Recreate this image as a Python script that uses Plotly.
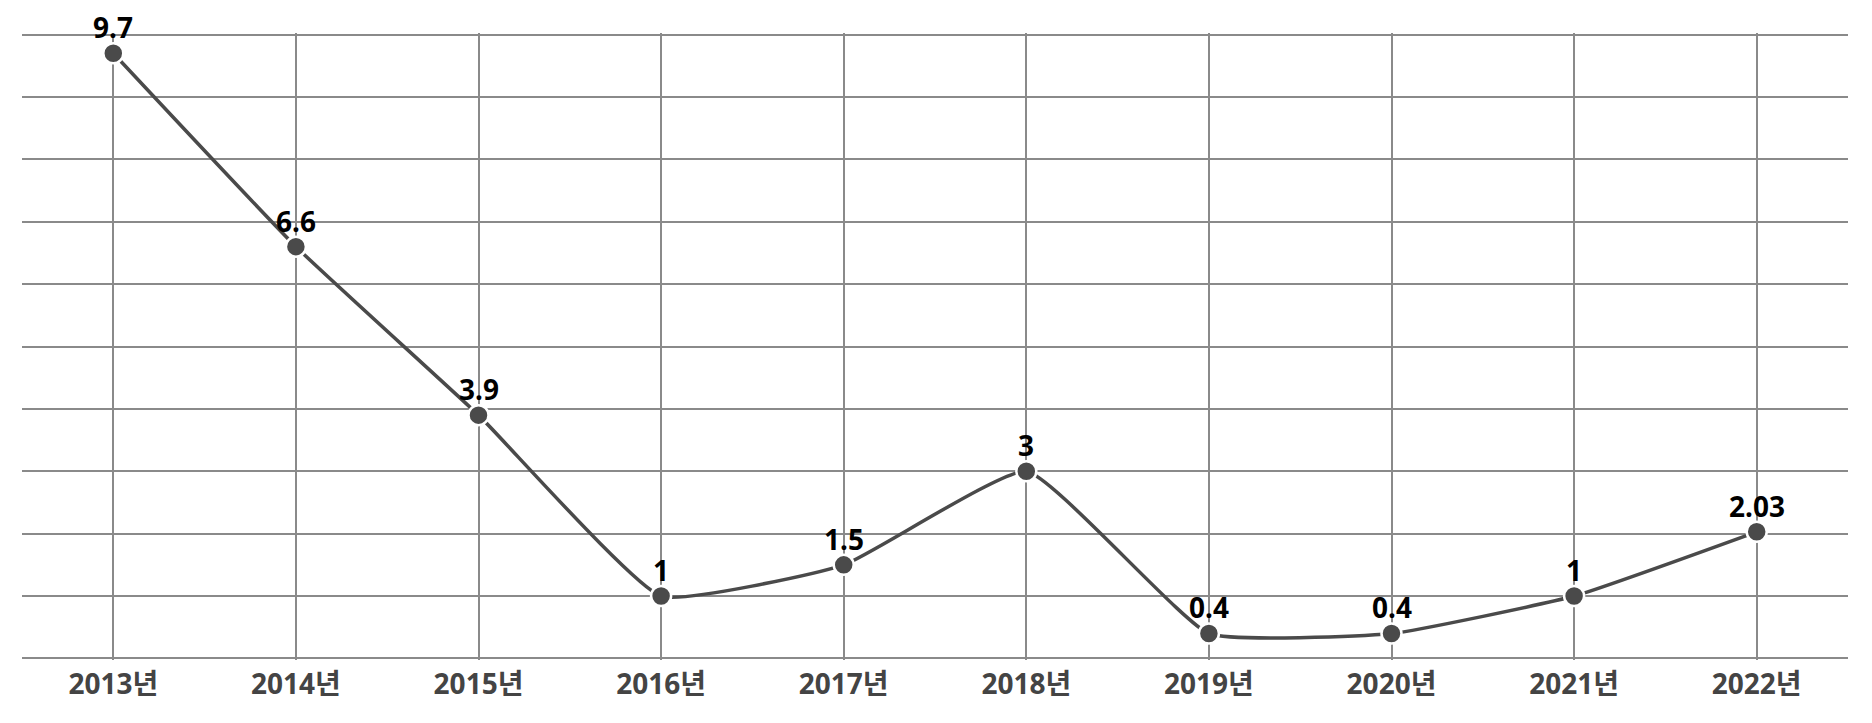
import plotly.graph_objects as go

years = ["2013년", "2014년", "2015년", "2016년", "2017년", "2018년", "2019년", "2020년", "2021년", "2022년"]
values = [9.7, 6.6, 3.9, 1, 1.5, 3, 0.4, 0.4, 1, 2.03]
labels = ["9.7", "6.6", "3.9", "1", "1.5", "3", "0.4", "0.4", "1", "2.03"]

FONT = "Noto Sans, Noto Sans CJK KR, sans-serif"

fig = go.Figure()
fig.add_trace(go.Scatter(
    x=years, y=values,
    mode="lines+markers",
    line=dict(color="#4a4a4a", width=3.5, shape="spline", smoothing=0.4),
    marker=dict(size=20, color="#4a4a4a", line=dict(color="white", width=2.5)),
    cliponaxis=False,
    hoverinfo="x+y",
))

for yr, v, lab in zip(years, values, labels):
    fig.add_annotation(
        x=yr, y=v, text=lab, showarrow=False,
        xanchor="center", yanchor="bottom", yshift=5,
        font=dict(family=FONT, size=28, color="black", weight="bold"),
    )

fig.update_layout(
    width=1856, height=707,
    margin=dict(l=14, r=16, t=25, b=55),
    plot_bgcolor="white", paper_bgcolor="white",
    showlegend=False,
    xaxis=dict(
        type="category", range=[-0.5, 9.5],
        showgrid=True, gridcolor="#8a8a8a", gridwidth=1.5,
        showline=False, zeroline=False, ticks="",
        tickfont=dict(family=FONT, size=28, color="#444444", weight="bold"),
        ticklabelstandoff=5,
    ),
    yaxis=dict(
        range=[-0.025, 10.025], dtick=1, tick0=0,
        showgrid=True, gridcolor="#8a8a8a", gridwidth=1.5,
        showticklabels=False, zeroline=False, showline=False, ticks="",
    ),
)
fig.write_html("out.html")
